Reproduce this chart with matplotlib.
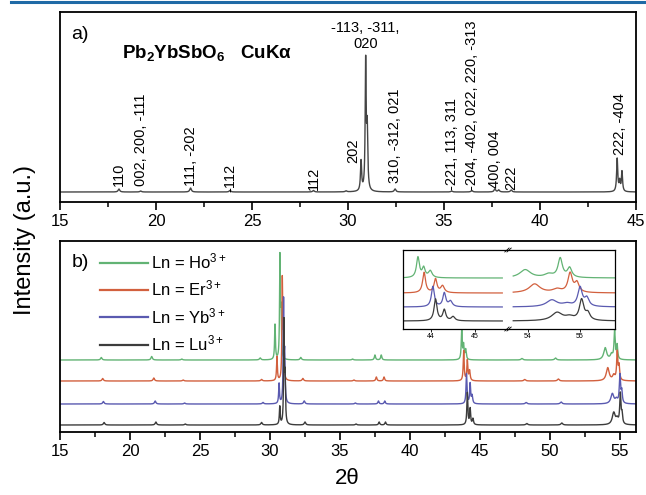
import numpy as np
import matplotlib
matplotlib.use('Agg')
import matplotlib.pyplot as plt
from matplotlib.lines import Line2D
from matplotlib.ticker import MultipleLocator

plt.rcParams['font.family'] = ['Liberation Sans', 'DejaVu Sans']
plt.rcParams['mathtext.fontset'] = 'custom'
plt.rcParams['mathtext.rm'] = 'Liberation Sans'
plt.rcParams['mathtext.it'] = 'Liberation Sans:italic'
plt.rcParams['mathtext.bf'] = 'Liberation Sans:bold'
plt.rcParams['mathtext.default'] = 'regular'

# ---------------- panel a: Pb2YbSbO6 peak list (2theta, height, FWHM) ----------------
a_pos = [18.07, 19.2, 21.8, 23.85, 28.2, 29.9, 30.68, 30.92, 31.0, 32.45, 35.4, 36.45,
         37.65, 37.85, 38.5, 44.02, 44.15, 44.27]
a_height = [3, 1, 4, 1.5, 1.5, 1, 30, 127, 60, 3, 1, 1.5, 3, 2, 2, 33, 10, 20]
a_width = [0.1, 0.1, 0.1, 0.1, 0.1, 0.1, 0.07, 0.06, 0.07, 0.1, 0.1, 0.1,
           0.1, 0.1, 0.1, 0.07, 0.07, 0.07]
a_baseline = 10

a_labels = ["110", "002, 200, -111", "111, -202", "-112", "112", "202",
            "310, -312, 021", "-221, 113, 311", "-204, -402, 022, 220, -313",
            "400, 004", "222", "222, -404"]
a_label_x = [18.07, 19.2, 21.8, 23.85, 28.2, 30.26, 32.45, 35.42, 36.46, 37.66, 38.49, 44.17]
a_label_y = [16, 16, 16, 10, 12, 39, 19, 12, 12, 14, 12, 47]

# ---------------- panel b: four Ln compounds ----------------
series_labels = ["Ln = Ho$^{3+}$", "Ln = Er$^{3+}$", "Ln = Yb$^{3+}$", "Ln = Lu$^{3+}$"]
series_colors = ["#62b374", "#d2603e", "#5a5ab0", "#3c3c3c"]
series_offsets = [72, 51, 28, 7]
inset_offsets = [51, 36, 22, 8]

ho_pos = [17.95, 21.55, 23.7, 29.3, 30.36, 30.71, 30.79, 32.2, 35.9, 37.5, 37.95,
          43.70, 43.83, 43.98, 48.0, 50.4, 53.95, 54.40, 54.62, 54.80]
ho_height = [2.5, 3.5, 1, 2, 35, 100, 45, 2.5, 1, 5, 5, 30, 14, 10, 1.5, 2, 12, 5, 28, 14]
er_pos = [18.05, 21.7, 23.8, 29.4, 30.5, 30.88, 30.96, 32.35, 36.0, 37.6, 38.15,
          43.84, 44.1, 44.26, 48.2, 50.6, 54.13, 54.56, 54.81, 54.94]
er_height = [2.5, 3, 1, 1.5, 24, 98, 45, 2.5, 1, 4, 4, 30, 20, 10, 1.5, 2, 13, 5, 28, 14]
yb_pos = [18.1, 21.8, 23.9, 29.5, 30.65, 30.97, 31.05, 32.45, 36.1, 37.75, 38.2,
          44.04, 44.3, 44.44, 48.3, 50.8, 54.46, 54.75, 55.0, 55.13]
yb_height = [2.5, 3, 1, 1.5, 20, 100, 45, 3, 1, 3, 3, 30, 20, 8, 1.5, 2, 10, 4, 28, 12]
lu_pos = [18.15, 21.85, 23.95, 29.4, 30.7, 31.0, 31.08, 32.5, 36.15, 37.8, 38.25,
          44.1, 44.3, 44.5, 48.35, 50.85, 54.56, 54.8, 55.03, 55.15]
lu_height = [2.5, 3, 1, 2.5, 18, 100, 45, 3, 1, 3, 3, 32, 16, 6, 1.5, 2, 12, 5, 30, 10]
b_width = [0.12, 0.12, 0.12, 0.12, 0.07, 0.06, 0.07, 0.12, 0.12, 0.1, 0.1,
           0.08, 0.08, 0.1, 0.15, 0.15, 0.25, 0.2, 0.1, 0.1]
inset_scale = 0.68

b_pos_list = [ho_pos, er_pos, yb_pos, lu_pos]
b_height_list = [ho_height, er_height, yb_height, lu_height]


def pattern(x, pos, height, width):
    y = np.zeros_like(x)
    for p, h, w in zip(pos, height, width):
        y += h / (1.0 + ((x - p) / (w / 2.0)) ** 2)
    return y


W, H = 646, 495
fig = plt.figure(figsize=(W / 100, H / 100), dpi=100)


def fx(px):
    return px / W


def fy(py):
    return 1 - py / H


fig.add_artist(Line2D([fx(11), 1.0], [fy(1.5), fy(1.5)], color="#1f6aa6", lw=2.2))

# ---------- top panel ----------
axa = fig.add_axes([fx(60), fy(202), fx(636) - fx(60), fy(12) - fy(202)])
xa = np.linspace(15, 45, 6000)
ya = a_baseline + pattern(xa, a_pos, a_height, a_width)
axa.plot(xa, ya, color="#454545", lw=1.0)
axa.set_xlim(15, 45)
axa.set_ylim(0, 190)
axa.set_yticks([])
axa.xaxis.set_major_locator(MultipleLocator(5))
axa.xaxis.set_minor_locator(MultipleLocator(2.5))
for lab, lx, ly in zip(a_labels, a_label_x, a_label_y):
    axa.text(lx, ly, lab, rotation=90, ha='center', va='bottom', fontsize=10.5)
axa.text(30.9, 166, "-113, -311,\n020", ha='center', va='center', fontsize=10.5,
         linespacing=1.2)
axa.text(0.0347, 0.88, "a)", transform=axa.transAxes, ha='center', va='center', fontsize=14)
axa.text(0.1076, 0.784, r"Pb$_\mathbf{2}$YbSbO$_\mathbf{6}$   CuKα", transform=axa.transAxes,
         ha='left', va='center', fontsize=13.5, fontweight='bold')

# ---------- bottom panel ----------
axb = fig.add_axes([fx(60), fy(432), fx(636) - fx(60), fy(241) - fy(432)])
xb = np.linspace(15, 56.15, 9000)
for lab, col, off, pos, hts in zip(series_labels, series_colors, series_offsets,
                                   b_pos_list, b_height_list):
    axb.plot(xb, off + pattern(xb, pos, hts, b_width), color=col, lw=1.0, label=lab)
axb.set_xlim(15, 56.15)
axb.set_ylim(0, 191)
axb.set_yticks([])
axb.xaxis.set_major_locator(MultipleLocator(5))
axb.xaxis.set_minor_locator(MultipleLocator(2.5))
axb.text(0.036, 0.89, "b)", transform=axb.transAxes, ha='center', va='center', fontsize=14)
leg = axb.legend(loc='upper left', bbox_to_anchor=(0.069, 0.945), frameon=False,
                 fontsize=12, handlelength=2.9, handletextpad=0.15, labelspacing=0.45,
                 borderpad=0, borderaxespad=0)
for hl in leg.get_lines():
    hl.set_linewidth(1.6)

for ax in (axa, axb):
    for s in ax.spines.values():
        s.set_linewidth(1.3)
    ax.tick_params(axis='x', which='major', direction='out', length=6, width=1.2,
                   labelsize=12, pad=3)
    ax.tick_params(axis='x', which='minor', direction='out', length=3.5, width=1.1)

# ---------- inset (broken axis) ----------
ins_y0, ins_h = fy(329), fy(250) - fy(329)
axl = fig.add_axes([fx(403), ins_y0, fx(508) - fx(403), ins_h], facecolor='white')
axr = fig.add_axes([fx(508), ins_y0, fx(615) - fx(508), ins_h], facecolor='white')
xl = np.linspace(43.36, 45.62, 1500)
xr = np.linspace(53.72, 55.67, 1500)
for col, off, pos, hts in zip(series_colors, inset_offsets, b_pos_list, b_height_list):
    axl.plot(xl, off + inset_scale * pattern(xl, pos, hts, b_width), color=col, lw=0.9)
    axr.plot(xr, off + inset_scale * pattern(xr, pos, hts, b_width), color=col, lw=0.9)
axl.set_xlim(43.36, 45.75)
axr.set_xlim(53.62, 55.67)
for ax, ticks, labs in ((axl, [44, 45], ["44", "45"]), (axr, [54, 55], ["54", "55"])):
    ax.set_ylim(0, 79)
    ax.set_yticks([])
    ax.set_xticks(ticks)
    ax.set_xticklabels(labs)
    ax.tick_params(axis='x', direction='out', length=2, width=0.6, labelsize=5, pad=1)
    for s in ax.spines.values():
        s.set_linewidth(0.9)
axl.spines['right'].set_visible(False)
axr.spines['left'].set_visible(False)
for yy in (0, 1):
    axr.plot([-0.03, 0.01], [yy - 0.025, yy + 0.025], transform=axr.transAxes,
             color='k', lw=0.6, clip_on=False)
    axr.plot([-0.01, 0.03], [yy - 0.025, yy + 0.025], transform=axr.transAxes,
             color='k', lw=0.6, clip_on=False)

fig.text(fx(25), fy(240), "Intensity (a.u.)", rotation=90, ha='center', va='center', fontsize=17)
fig.text(fx(347), fy(478), "2θ", ha='center', va='center', fontsize=16)

fig.savefig("out.png", dpi=100)
